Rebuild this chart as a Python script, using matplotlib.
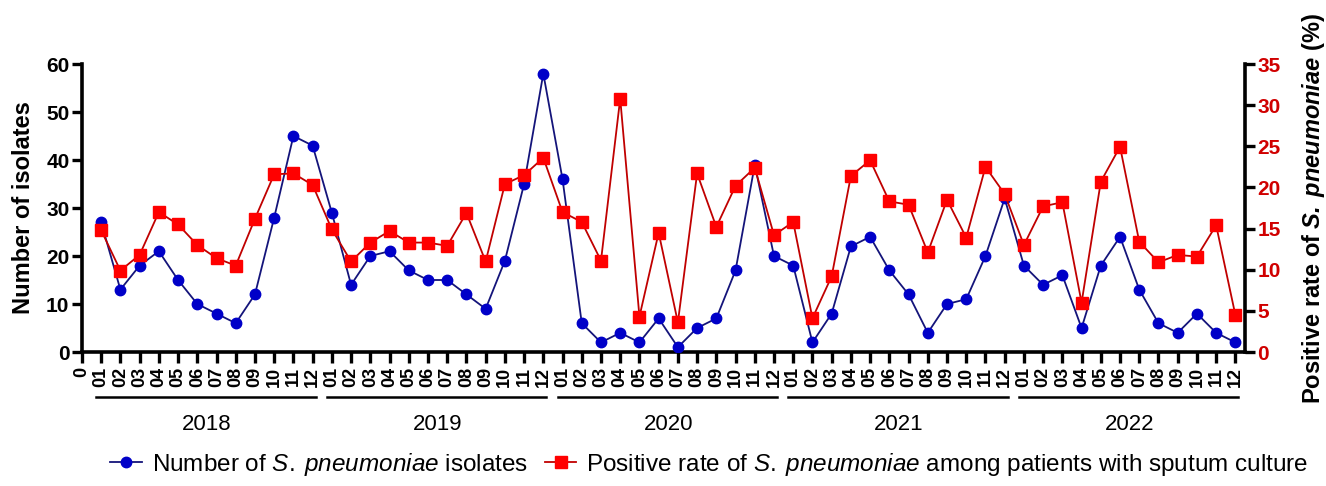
import matplotlib
matplotlib.use("Agg")
import matplotlib.pyplot as plt
import matplotlib.transforms as mtransforms

plt.rcParams['font.family'] = ['Liberation Sans', 'DejaVu Sans']
plt.rcParams['mathtext.fontset'] = 'custom'
plt.rcParams['mathtext.it'] = 'Liberation Sans:italic'
plt.rcParams['mathtext.rm'] = 'Liberation Sans'
plt.rcParams['mathtext.bf'] = 'Liberation Sans:bold'
plt.rcParams['mathtext.bfit'] = 'Liberation Sans:italic:bold'

years = ['2018', '2019', '2020', '2021', '2022']
months = ['01', '02', '03', '04', '05', '06', '07', '08', '09', '10', '11', '12']

isolates = [
    27, 13, 18, 21, 15, 10, 8, 6, 12, 28, 45, 43,
    29, 14, 20, 21, 17, 15, 15, 12, 9, 19, 35, 58,
    36, 6, 2, 4, 2, 7, 1, 5, 7, 17, 39, 20,
    18, 2, 8, 22, 24, 17, 12, 4, 10, 11, 20, 32,
    18, 14, 16, 5, 18, 24, 13, 6, 4, 8, 4, 2,
]
positive_rate = [
    14.8, 9.9, 11.8, 17.0, 15.5, 13.0, 11.4, 10.5, 16.2, 21.6, 21.7, 20.3,
    14.9, 11.0, 13.3, 14.7, 13.3, 13.3, 12.9, 16.9, 11.0, 20.4, 21.5, 23.6,
    17.0, 15.8, 11.1, 30.8, 4.3, 14.5, 3.6, 21.7, 15.2, 20.2, 22.4, 14.2,
    15.8, 4.1, 9.2, 21.4, 23.3, 18.3, 17.9, 12.1, 18.5, 13.9, 22.5, 19.2,
    13.0, 17.7, 18.2, 6.0, 20.7, 24.95, 13.4, 10.9, 11.8, 11.6, 15.4, 4.5,
]

x = list(range(1, len(isolates) + 1))
tick_labels = ['0'] + months * len(years)

fig = plt.figure(figsize=(13.26, 4.86), dpi=100)
ax = fig.add_axes([0.0618, 0.2757, 0.8771, 0.5926])
ax2 = ax.twinx()

blue_line = '#14147a'
blue_mk = '#0000c8'
red_line = '#c00000'
red_mk = '#ff0000'

l1, = ax.plot(x, isolates, color=blue_line, lw=1.3, marker='o', ms=7.5,
              mfc=blue_mk, mec=blue_mk, zorder=3,
              label=r'Number of $\mathit{S.\;pneumoniae}$ isolates')
l2, = ax2.plot(x, positive_rate, color=red_line, lw=1.3, marker='s', ms=8,
               mfc=red_mk, mec=red_mk, zorder=2,
               label=r'Positive rate of $\mathit{S.\;pneumoniae}$ among patients with sputum culture')

ax.set_xlim(0, 60.5)
ax.set_ylim(0, 60)
ax2.set_ylim(0, 35)
ax.set_yticks(range(0, 61, 10))
ax2.set_yticks(range(0, 36, 5))
ax.set_xticks(range(0, len(x) + 1))
ax.set_xticklabels(tick_labels, rotation=90, fontsize=13, fontweight='bold')

for a in (ax, ax2):
    a.spines['top'].set_visible(False)
    for s in ('left', 'right', 'bottom'):
        a.spines[s].set_linewidth(2.6)
ax.spines['right'].set_visible(False)
ax2.spines['left'].set_visible(False)
ax2.spines['bottom'].set_visible(False)

ax.tick_params(axis='x', length=8, width=2.4, pad=3)
ax.tick_params(axis='y', length=7, width=2.4, labelsize=15, pad=2)
ax2.tick_params(axis='y', length=7, width=2.4, labelsize=15, pad=2, labelcolor='#d00000')
for lab in ax.get_yticklabels():
    lab.set_fontweight('bold')
for lab in ax2.get_yticklabels():
    lab.set_fontweight('bold')

ax.set_ylabel('Number of isolates', fontsize=17, fontweight='bold', labelpad=8)
ax2.set_ylabel(r'Positive rate of $\mathbfit{S.\;pneumoniae}$ (%)', fontsize=17,
               fontweight='bold', labelpad=14)

trans = mtransforms.blended_transform_factory(ax.transData, ax.transAxes)
for i, yr in enumerate(years):
    x0 = 12 * i + 0.75
    x1 = 12 * i + 12.15
    ax.plot([x0, x1], [-0.156, -0.156], color='black', lw=1.8, transform=trans, clip_on=False)
    ax.text(12 * i + 6.5, -0.25, yr, transform=trans, ha='center', va='center', fontsize=16)

fig.legend(handles=[l1, l2], loc='center', bbox_to_anchor=(0.535, 0.045), ncol=2,
           frameon=False, fontsize=17.5, handlelength=1.3, columnspacing=0.7,
           handletextpad=0.4)

fig.savefig('out.png', dpi=100)
